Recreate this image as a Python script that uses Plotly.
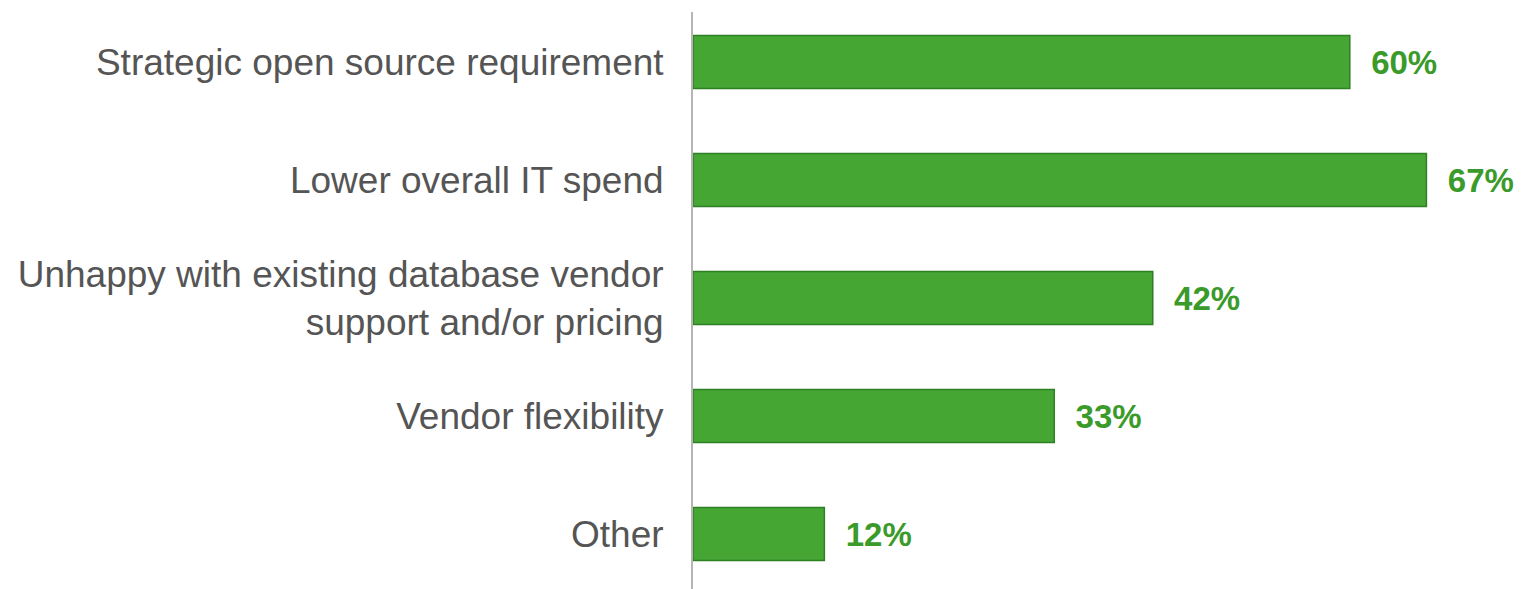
import plotly.graph_objects as go

categories = [
    "Strategic open source requirement",
    "Lower overall IT spend",
    "Unhappy with existing database vendor<br>support and/or pricing",
    "Vendor flexibility",
    "Other",
]
values = [60, 67, 42, 33, 12]

fig = go.Figure()
fig.add_trace(go.Bar(
    x=values,
    y=categories,
    orientation="h",
    width=0.45,
    marker=dict(color="#46a634", line=dict(color="#2f7f24", width=1.5)),
    texttemplate="\u00a0\u00a0%{x}%",
    textposition="outside",
    cliponaxis=False,
    textfont=dict(family="Liberation Sans, Arial", size=33, color="#3a9a2a", weight="bold"),
    hoverinfo="skip",
))

fig.update_layout(
    width=1515,
    height=581,
    margin=dict(l=685, r=9, t=4, b=0),
    plot_bgcolor="white",
    paper_bgcolor="white",
    showlegend=False,
)
fig.update_xaxes(
    range=[0, 75],
    visible=False,
    showgrid=False,
    zeroline=False,
)
fig.update_yaxes(
    type="category",
    range=[4.466, -0.424],
    showline=True,
    linecolor="#b5b5b5",
    linewidth=2,
    showgrid=False,
    ticks="",
    ticklabelstandoff=20,
    tickfont=dict(family="Liberation Sans, Arial", size=37, color="#555555"),
)

fig.write_html("out.html")
